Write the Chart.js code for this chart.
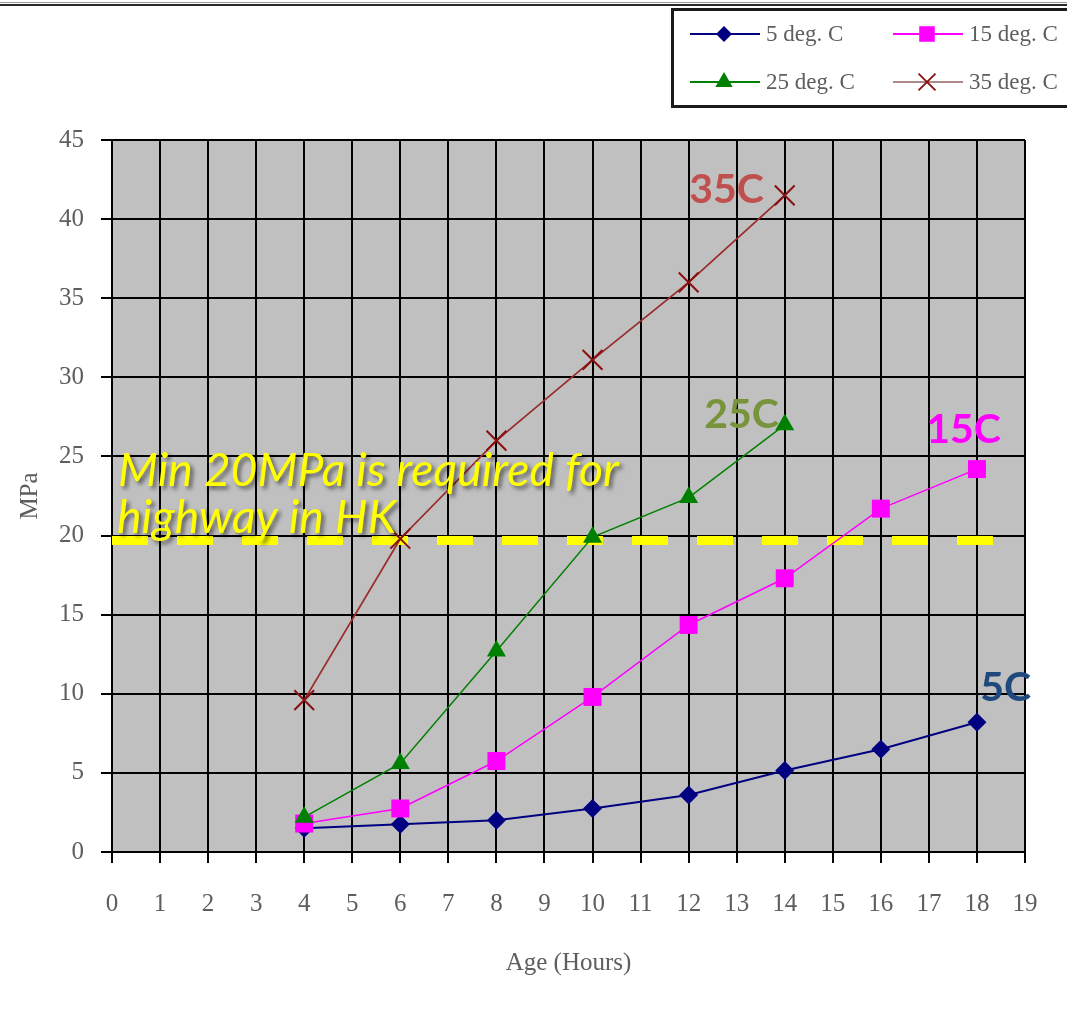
<!DOCTYPE html>
<html>
<head>
<meta charset="utf-8">
<script src="https://cdn.jsdelivr.net/npm/chart.js@4.4.1/dist/chart.umd.min.js"></script>
<style>
  html, body { margin: 0; padding: 0; background: #ffffff; }
  #wrap { width: 1067px; height: 1010px; position: relative; }
</style>
</head>
<body>
<div id="wrap"><canvas id="c" width="1067" height="1010"></canvas></div>
<script>
// Compressive strength (MPa) against age (hours) at four curing temperatures
const ageHours = [4, 6, 8, 10, 12, 14, 16, 18];
const mpa5C  = [1.5, 1.75, 2.0, 2.75, 3.6, 5.15, 6.5, 8.2];
const mpa15C = [1.8, 2.75, 5.75, 9.8, 14.35, 17.3, 21.7, 24.2];
const mpa25C = [2.2, 5.6, 12.7, 19.9, 22.4, 27.0];
const mpa35C = [9.6, 19.8, 26.0, 31.1, 36.0, 41.5];

const seriesNames = ['5 deg. C', '15 deg. C', '25 deg. C', '35 deg. C'];
const xTickValues = [0, 1, 2, 3, 4, 5, 6, 7, 8, 9, 10, 11, 12, 13, 14, 15, 16, 17, 18, 19];
const yTickValues = [0, 5, 10, 15, 20, 25, 30, 35, 40, 45];
const xTitle = 'Age (Hours)';
const yTitle = 'MPa';

// Minimum strength requirement and its note
const requiredMPa = 20;
const requiredLineEnd = 18.45;
const noteLines = ['Min 20MPa is required for', 'highway in HK'];

// Curve tags placed next to the curves (data coordinates)
const tagTexts = ['5C', '15C', '25C', '35C'];
const tagX = [18.6, 17.72, 13.1, 12.79];
const tagY = [10.37, 26.67, 27.62, 41.84];

const serif = '"Liberation Serif", "DejaVu Serif", serif';
const sans = 'Lato, "Open Sans", "Noto Sans", sans-serif';
const textGray = '#5e5e5e';

const styles = [
  { color: '#000080', point: 'rectRot', radius: 9.5, legendRadius: 8, width: 2, tag: '#1f497d' },
  { color: '#ff00ff', point: 'rect', radius: 12.7, legendRadius: 11, width: 1.5, tag: '#ff00ff' },
  { color: '#008000', point: 'triangle', radius: 11, legendRadius: 10, width: 1.5, tag: '#77933c' },
  { color: '#9a2e2e', point: 'crossRot', radius: 14, legendRadius: 12, width: 1.8, tag: '#c0504d', pointColor: '#8b0f0f' }
];

function toPoints(xs, ys) {
  return ys.map((v, i) => ({ x: xs[i], y: v }));
}

const seriesValues = [mpa5C, mpa15C, mpa25C, mpa35C];

const datasets = seriesValues.map((vals, i) => {
  const s = styles[i];
  return {
    label: seriesNames[i],
    data: toPoints(ageHours, vals),
    borderColor: s.color,
    backgroundColor: s.pointColor || s.color,
    pointBorderColor: s.pointColor || s.color,
    pointBackgroundColor: s.pointColor || s.color,
    borderWidth: s.width,
    pointStyle: s.point,
    pointRadius: s.radius,
    pointHoverRadius: s.radius,
    pointBorderWidth: s.point === 'crossRot' ? 2 : 0,
    tension: 0,
    order: 4 - i,
    clip: false
  };
});

// Gray plot area
const plotBackground = {
  id: 'plotBackground',
  beforeDraw(chart) {
    const { ctx, chartArea: a } = chart;
    ctx.save();
    ctx.fillStyle = '#ffffff';
    ctx.fillRect(0, 0, chart.width, chart.height);
    ctx.fillStyle = '#c0c0c0';
    ctx.fillRect(a.left, a.top, a.right - a.left, a.bottom - a.top);
    ctx.restore();
  }
};

// Dashed yellow requirement line
const requirementLine = {
  id: 'requirementLine',
  beforeDatasetsDraw(chart) {
    const { ctx, scales: { x, y } } = chart;
    const x0 = x.getPixelForValue(0);
    const x1 = x.getPixelForValue(requiredLineEnd);
    const yy = y.getPixelForValue(requiredMPa) + 5;
    ctx.save();
    ctx.strokeStyle = '#ffff00';
    ctx.lineWidth = 9;
    ctx.setLineDash([36, 29]);
    ctx.beginPath();
    ctx.moveTo(x0, yy);
    ctx.lineTo(x1, yy);
    ctx.stroke();
    ctx.restore();
  }
};

// Note text and curve tags
const annotations = {
  id: 'annotations',
  afterDatasetsDraw(chart) {
    const { ctx, chartArea: a, scales: { x, y } } = chart;
    ctx.save();
    // curve tags
    ctx.font = 'bold 41px ' + sans;
    ctx.textAlign = 'center';
    ctx.textBaseline = 'middle';
    tagTexts.forEach((t, i) => {
      ctx.fillStyle = styles[i].tag;
      ctx.fillText(t, x.getPixelForValue(tagX[i]), y.getPixelForValue(tagY[i]));
    });
    // requirement note
    let size = 42;
    ctx.font = 'italic ' + size + 'px ' + sans;
    const w = ctx.measureText(noteLines[0]).width;
    size = size * 501 / w;
    ctx.font = 'italic ' + size.toFixed(2) + 'px ' + sans;
    ctx.textAlign = 'left';
    ctx.textBaseline = 'alphabetic';
    ctx.shadowColor = 'rgba(0,0,0,0.55)';
    ctx.shadowBlur = 4;
    ctx.shadowOffsetX = 3;
    ctx.shadowOffsetY = 3;
    ctx.fillStyle = '#ffff00';
    const y20 = y.getPixelForValue(requiredMPa);
    ctx.fillText(noteLines[0], a.left + 6, y20 - 50);
    ctx.fillText(noteLines[1], a.left + 5, y20 - 3);
    ctx.restore();
  }
};

function drawMarker(ctx, style, cx, cy, r, color) {
  ctx.save();
  ctx.fillStyle = color;
  ctx.strokeStyle = color;
  ctx.beginPath();
  if (style === 'rectRot') {
    ctx.moveTo(cx, cy - r); ctx.lineTo(cx + r, cy); ctx.lineTo(cx, cy + r); ctx.lineTo(cx - r, cy);
    ctx.closePath(); ctx.fill();
  } else if (style === 'rect') {
    const s = r * Math.SQRT1_2;
    ctx.rect(cx - s, cy - s, 2 * s, 2 * s); ctx.fill();
  } else if (style === 'triangle') {
    ctx.moveTo(cx, cy - r);
    ctx.lineTo(cx + r * 0.866, cy + r * 0.5);
    ctx.lineTo(cx - r * 0.866, cy + r * 0.5);
    ctx.closePath(); ctx.fill();
  } else {
    const s = r * Math.SQRT1_2;
    ctx.lineWidth = 1.8;
    ctx.moveTo(cx - s, cy - s); ctx.lineTo(cx + s, cy + s);
    ctx.moveTo(cx + s, cy - s); ctx.lineTo(cx - s, cy + s);
    ctx.stroke();
  }
  ctx.restore();
}

// Framed legend in the upper right and the rule along the top edge
const boxedLegend = {
  id: 'boxedLegend',
  afterDraw(chart) {
    const { ctx } = chart;
    ctx.save();
    ctx.fillStyle = '#9a9a9a';
    ctx.fillRect(0, 2, chart.width, 1);
    ctx.fillStyle = '#2a2a2a';
    ctx.fillRect(0, 4, chart.width, 2);

    ctx.strokeStyle = '#1a1a1a';
    ctx.lineWidth = 3;
    ctx.strokeRect(672.5, 9.5, 420, 97);

    const cols = [690, 893];
    const rows = [34, 82];
    ctx.font = '23px ' + serif;
    ctx.textBaseline = 'middle';
    ctx.textAlign = 'left';
    for (let i = 0; i < 4; i++) {
      const cx = cols[i % 2];
      const cy = rows[Math.floor(i / 2)];
      const s = styles[i];
      ctx.strokeStyle = i === 3 ? '#b08a8a' : s.color;
      ctx.lineWidth = 2;
      ctx.beginPath();
      ctx.moveTo(cx, cy);
      ctx.lineTo(cx + 70, cy);
      ctx.stroke();
      drawMarker(ctx, s.point, cx + 34, cy, s.legendRadius, s.pointColor || s.color);
      ctx.fillStyle = textGray;
      ctx.fillText(seriesNames[i], cx + 76, cy + 1);
    }
    ctx.restore();
  }
};

function build() {
  new Chart(document.getElementById('c'), {
    type: 'line',
    data: { datasets },
    plugins: [plotBackground, requirementLine, annotations, boxedLegend],
    options: {
      responsive: false,
      animation: false,
      devicePixelRatio: 1,
      layout: { padding: { top: 140, right: 42, left: 0, bottom: 0 } },
      plugins: {
        legend: { display: false },
        tooltip: { enabled: false },
        title: { display: false }
      },
      scales: {
        x: {
          type: 'linear',
          min: 0,
          max: 19,
          afterBuildTicks(scale) { scale.ticks = xTickValues.map(v => ({ value: v })); },
          afterFit(scale) { scale.height = 158; },
          ticks: {
            autoSkip: false,
            maxRotation: 0,
            minRotation: 0,
            padding: 26,
            color: textGray,
            font: { family: serif, size: 25 },
            callback: v => String(v)
          },
          grid: { color: '#000000', lineWidth: 2, tickLength: 11, drawOnChartArea: true },
          border: { color: '#000000', width: 2 },
          title: {
            display: true,
            text: xTitle,
            color: textGray,
            font: { family: serif, size: 25 },
            padding: { top: 0, bottom: 32 }
          }
        },
        y: {
          type: 'linear',
          min: 0,
          max: 45,
          afterBuildTicks(scale) { scale.ticks = yTickValues.map(v => ({ value: v })); },
          afterFit(scale) { scale.width = 112; },
          ticks: {
            padding: 17,
            color: textGray,
            font: { family: serif, size: 25 },
            callback: v => String(v)
          },
          grid: { color: '#000000', lineWidth: 2, tickLength: 11, drawOnChartArea: true },
          border: { color: '#000000', width: 2 },
          title: {
            display: true,
            text: yTitle,
            color: textGray,
            font: { family: serif, size: 25 },
            padding: { top: 15, bottom: 0 }
          }
        }
      }
    }
  });
}

const fontLoads = [
  'italic 42px Lato', 'bold 41px Lato', '25px "Liberation Serif"'
].map(f => document.fonts ? document.fonts.load(f).catch(() => null) : Promise.resolve());
Promise.all(fontLoads).then(build, build);
</script>
</body>
</html>
